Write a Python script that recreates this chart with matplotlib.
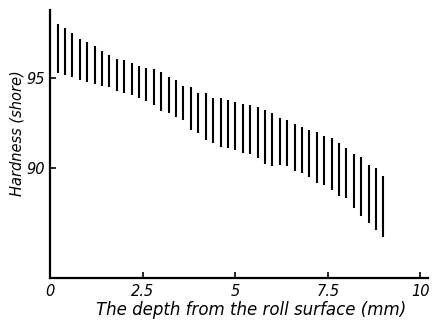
import matplotlib
matplotlib.use("Agg")
import matplotlib.pyplot as plt
import numpy as np

# depth (mm) and hardness range (shore)
depth = [0.2, 0.4, 0.6, 0.8, 1.0, 1.2, 1.4, 1.6, 1.8, 2.0,
         2.2, 2.4, 2.6, 2.8, 3.0, 3.2, 3.4, 3.6, 3.8, 4.0,
         4.2, 4.4, 4.6, 4.8, 5.0, 5.2, 5.4, 5.6, 5.8, 6.0,
         6.2, 6.4, 6.6, 6.8, 7.0, 7.2, 7.4, 7.6, 7.8, 8.0,
         8.2, 8.4, 8.6, 8.8, 9.0]
hard_max = [98.0, 97.8, 97.5, 97.2, 97.0, 96.8, 96.5, 96.3, 96.1, 96.0,
            95.85, 95.7, 95.55, 95.5, 95.35, 95.1, 94.9, 94.6, 94.5, 94.2,
            94.2, 93.9, 93.9, 93.8, 93.7, 93.6, 93.5, 93.4, 93.25, 93.1,
            92.8, 92.7, 92.45, 92.3, 92.15, 92.0, 91.8, 91.7, 91.4, 91.15,
            90.8, 90.6, 90.2, 90.0, 89.55]
hard_min = [95.3, 95.2, 95.1, 94.9, 94.8, 94.7, 94.6, 94.5, 94.3, 94.2,
            94.1, 93.9, 93.75, 93.5, 93.2, 93.1, 92.85, 92.7, 92.15, 91.95,
            91.55, 91.4, 91.2, 91.1, 91.0, 90.85, 90.8, 90.55, 90.25, 90.15,
            90.2, 90.1, 89.85, 89.75, 89.5, 89.2, 89.05, 88.8, 88.45, 88.35,
            87.8, 87.35, 86.95, 86.55, 86.2]

xticks = [0, 2.5, 5, 7.5, 10]
xtick_labels = ["0", "2.5", "5", "7.5", "10"]
yticks = [90, 95]

fig = plt.figure(figsize=(4.33, 3.2), dpi=100)
ax = fig.add_axes([0.116, 0.131, 0.872, 0.838])

# range bars
ax.vlines(depth, hard_min, hard_max, colors="black", linewidth=1.5)

ax.set_xlim(0, 10.2)
ax.set_ylim(83.9, 98.8)

for s in ["top", "right"]:
    ax.spines[s].set_visible(False)
for s in ["left", "bottom"]:
    ax.spines[s].set_linewidth(1.6)

ax.set_xticks(xticks)
ax.set_xticklabels(xtick_labels, fontstyle="italic", fontsize=10.5)
ax.set_yticks(yticks)
ax.set_yticklabels([str(v) for v in yticks], fontstyle="italic", fontsize=10.5)
ax.tick_params(direction="in", length=4, width=1.2, pad=4)

ax.set_xlabel("The depth from the roll surface (mm)", fontstyle="italic", fontsize=12)
ax.xaxis.set_label_coords(0.532, -0.085)
ax.set_ylabel("Hardness (shore)", fontstyle="italic", fontsize=10.5)
ax.yaxis.set_label_coords(-0.068, 0.54)

fig.savefig("out.png", dpi=100)
